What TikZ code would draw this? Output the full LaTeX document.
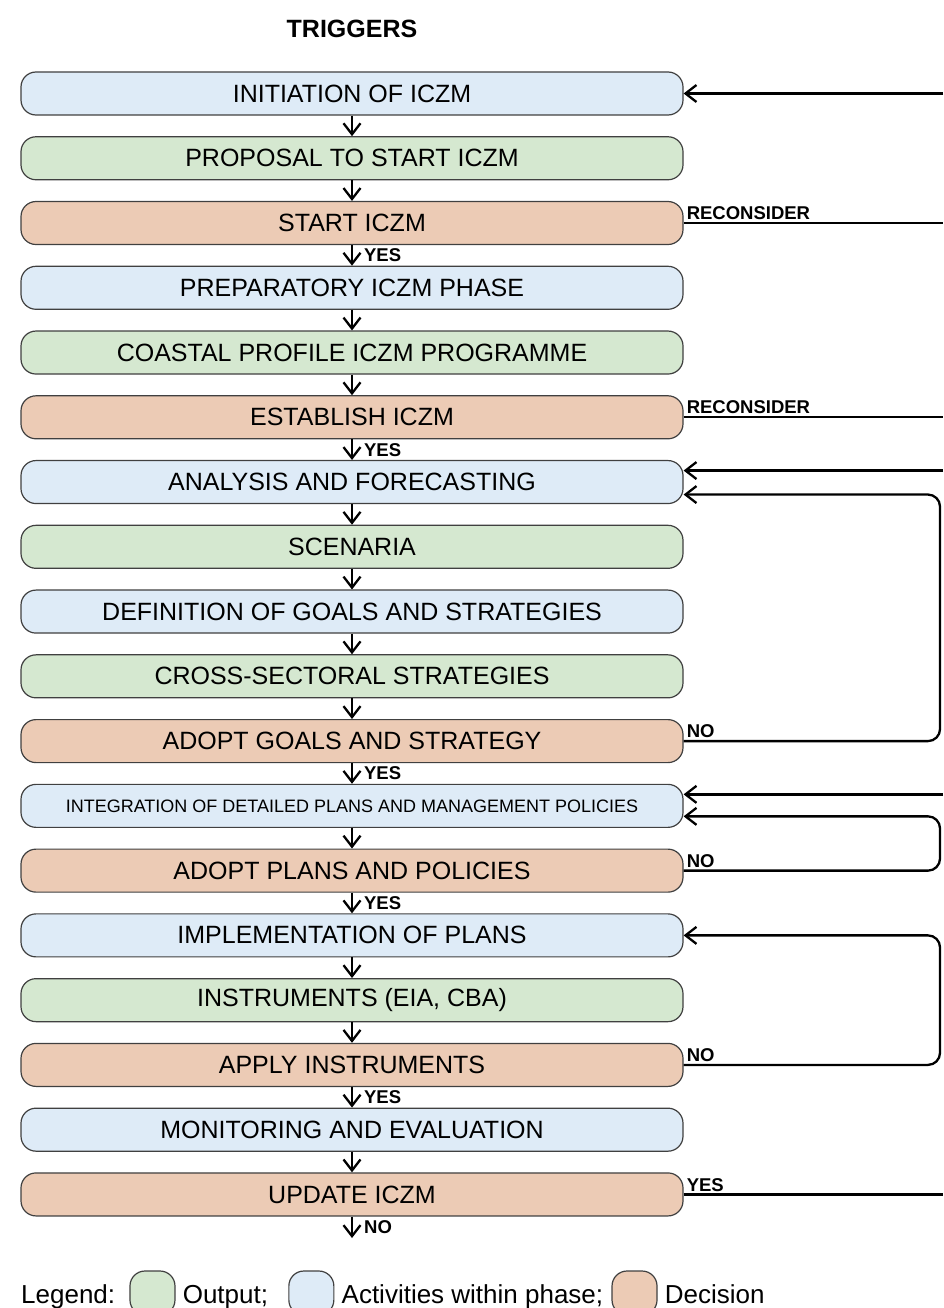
\documentclass[tikz,border=0pt]{standalone}
\usepackage{fontspec}
\setmainfont{Liberation Sans}
\usetikzlibrary{positioning,arrows.meta}
\definecolor{actblue}{RGB}{222,235,247}
\definecolor{outgreen}{RGB}{213,232,208}
\definecolor{decpeach}{RGB}{236,203,181}

\begin{document}
\begin{tikzpicture}[x=1pt,y=-1pt,
  box/.style={draw=black!75,line width=1.2pt,rounded corners=15pt,minimum width=662pt,minimum height=43pt,inner sep=0pt,font=\fontsize{25}{30}\selectfont},
  act/.style={box,fill=actblue},
  outp/.style={box,fill=outgreen},
  dec/.style={box,fill=decpeach},
  flow/.style={-{Straight Barb[length=11pt,width=17pt]},line width=2.3pt},
  link/.style={line width=2.3pt},
  tag/.style={font=\bfseries\fontsize{18.5}{22}\selectfont,inner sep=2pt},
  swatch/.style={draw=black!75,line width=1.2pt,rounded corners=15pt,minimum width=45pt,minimum height=44pt,inner sep=0pt},
  legtxt/.style={font=\fontsize{26}{30}\selectfont,inner sep=0pt},
  node distance=20.56pt]
\useasboundingbox (0,0) rectangle (943,1308);

\node[font=\bfseries\fontsize{25}{30}\selectfont] (trig) at (352,29) {TRIGGERS};

% phases, top to bottom
\node[act] (init) at (352,93.5) {INITIATION OF ICZM};
\node[outp,below=of init] (prop) {PROPOSAL TO START ICZM};
\node[dec,below=of prop] (start) {START ICZM};
\node[act,below=of start] (prep) {PREPARATORY ICZM PHASE};
\node[outp,below=of prep] (prof) {COASTAL PROFILE ICZM PROGRAMME};
\node[dec,below=of prof] (estab) {ESTABLISH ICZM};
\node[act,below=of estab] (anal) {ANALYSIS AND FORECASTING};
\node[outp,below=of anal] (scen) {SCENARIA};
\node[act,below=of scen] (goals) {DEFINITION OF GOALS AND STRATEGIES};
\node[outp,below=of goals] (cross) {CROSS-SECTORAL STRATEGIES};
\node[dec,below=of cross] (adoptg) {ADOPT GOALS AND STRATEGY};
\node[act,below=of adoptg,font=\fontsize{18}{22}\selectfont] (integ) {INTEGRATION OF DETAILED PLANS AND MANAGEMENT POLICIES};
\node[dec,below=of integ] (adoptp) {ADOPT PLANS AND POLICIES};
\node[act,below=of adoptp] (impl) {IMPLEMENTATION OF PLANS};
\node[outp,below=of impl] (instr) {INSTRUMENTS (EIA, CBA)};
\node[dec,below=of instr] (apply) {APPLY INSTRUMENTS};
\node[act,below=of apply] (monit) {MONITORING AND EVALUATION};
\node[dec,below=of monit] (update) {UPDATE ICZM};

\coordinate (redge) at (943,0);
\coordinate (rloop) at (940,0);
\coordinate (fin) at (352,1238);

% downward flow
\foreach \a/\b in {init/prop,prop/start,prep/prof,prof/estab,anal/scen,scen/goals,goals/cross,cross/adoptg,integ/adoptp,impl/instr,instr/apply,monit/update}
  \draw[flow] (\a) -- (\b);
\foreach \a/\b in {start/prep,estab/anal,adoptg/integ,adoptp/impl,apply/monit}
  \draw[flow] (\a) -- node[tag,right=9pt] {YES} (\b);
\draw[flow] (update) -- node[tag,right=9pt] {NO} (fin);

% feedback on the right
\draw[flow] (init.east -| redge) -- (init.east);
\draw[link] (start.east) -- node[tag,pos=0,above right] {RECONSIDER} (start.east -| redge);
\draw[link] (estab.east) -- node[tag,pos=0,above right] {RECONSIDER} (estab.east -| redge);
\draw[flow] ([yshift=11.5pt]anal.east -| redge) -- ([yshift=11.5pt]anal.east);
\draw[flow,rounded corners=12pt] (adoptg.east) -- node[tag,pos=0,above right] {NO} (adoptg.east -| rloop) -- ([yshift=-12.5pt]anal.east -| rloop) -- ([yshift=-12.5pt]anal.east);
\draw[flow] ([yshift=11.5pt]integ.east -| redge) -- ([yshift=11.5pt]integ.east);
\draw[flow,rounded corners=12pt] (adoptp.east) -- node[tag,pos=0,above right] {NO} (adoptp.east -| rloop) -- ([yshift=-10.5pt]integ.east -| rloop) -- ([yshift=-10.5pt]integ.east);
\draw[flow,rounded corners=12pt] (apply.east) -- node[tag,pos=0,above right] {NO} (apply.east -| rloop) -- (impl.east -| rloop) -- (impl.east);
\draw[link] (update.east) -- node[tag,pos=0,above right] {YES} (update.east -| redge);

% legend
\coordinate (legrow) at (0,1293);
\node[legtxt,anchor=base west] (legend) at (21,1303) {Legend:};
\node[swatch,fill=outgreen,anchor=west,xshift=14pt] (kout) at (legend.east |- legrow) {};
\node[legtxt,anchor=base west,xshift=7pt] (tout) at (kout.east |- legend.base) {Output;};
\node[swatch,fill=actblue,anchor=west,xshift=20pt] (kact) at (tout.east |- legrow) {};
\node[legtxt,anchor=base west,xshift=7pt] (tact) at (kact.east |- legend.base) {Activities within phase;};
\node[swatch,fill=decpeach,anchor=west,xshift=8pt] (kdec) at (tact.east |- legrow) {};
\node[legtxt,anchor=base west,xshift=7pt] (tdec) at (kdec.east |- legend.base) {Decision};
\end{tikzpicture}
\end{document}
